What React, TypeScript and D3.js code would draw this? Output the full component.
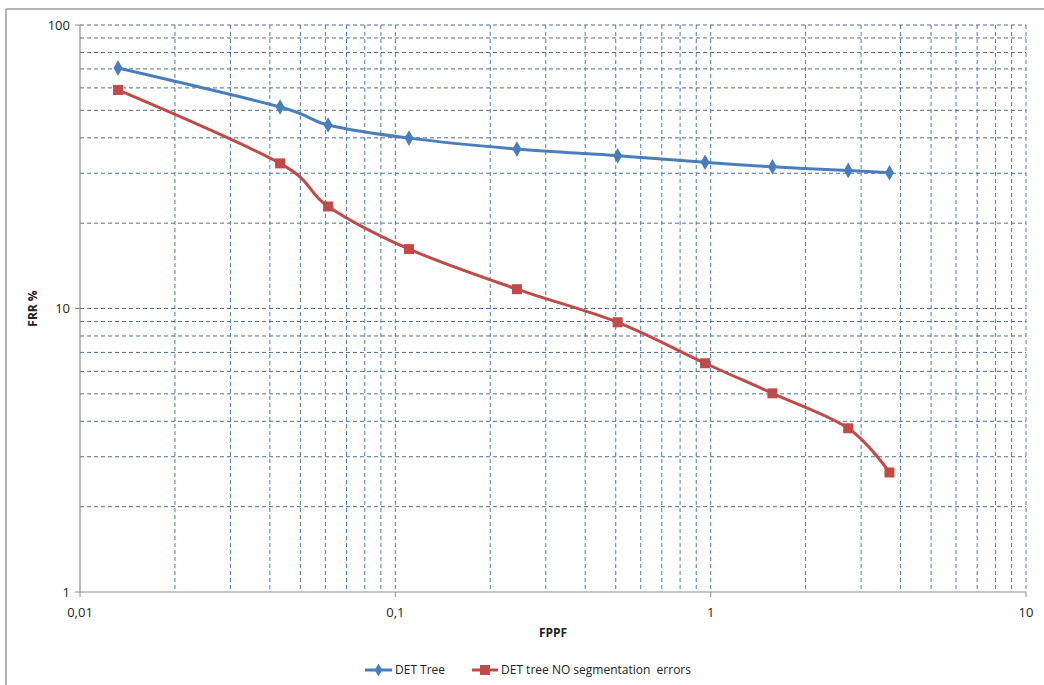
import React from "react";
import * as d3 from "d3";

// FPPF (x, log) and FRR % (y, log) for each DET curve
const fppf: number[] = [0.0132, 0.0431, 0.0612, 0.1105, 0.243, 0.507, 0.96, 1.57, 2.73, 3.69];
const detTree: number[] = [70.5, 51.4, 44.4, 39.9, 36.5, 34.6, 32.8, 31.6, 30.7, 30.1];
const detTreeNoSeg: number[] = [59.0, 32.5, 22.9, 16.2, 11.7, 8.94, 6.41, 5.02, 3.78, 2.64];

const xTickValues: number[] = [0.01, 0.1, 1, 10];
const xTickLabels: string[] = ["0,01", "0,1", "1", "10"];
const yTickValues: number[] = [1, 10, 100];
const yTickLabels: string[] = ["1", "10", "100"];

const seriesNames: string[] = ["DET Tree", "DET tree NO segmentation  errors"];

const W = 1044;
const H = 685;
const plot = { left: 80, right: 1026, top: 25, bottom: 592 };
const BLUE = "#4a7ebb";
const RED = "#be4b48";
const FONT = "'Open Sans', 'Liberation Sans', sans-serif";

function minorValues(lo: number, hi: number): number[] {
  const out: number[] = [];
  for (let d = lo; d < hi; d *= 10) {
    for (let k = 2; k <= 9; k++) out.push(d * k);
  }
  return out;
}

export default function App() {
  const x = d3.scaleLog().domain([0.01, 10]).range([plot.left, plot.right]);
  const y = d3.scaleLog().domain([1, 100]).range([plot.bottom, plot.top]);

  const line = d3
    .line<number>()
    .x((_, i) => x(fppf[i]))
    .y((d) => y(d))
    .curve(d3.curveCardinal.tension(0));

  const xGrid = [...minorValues(0.01, 10), 0.1, 1];
  const yGrid = [...minorValues(1, 100), 10];

  const diamond = d3.symbol(d3.symbolDiamond, 70)() as string;

  return (
    <svg
      width={W}
      height={H}
      style={{ position: "absolute", left: 0, top: 0, background: "#fff" }}
    >
      {/* chart frame */}
      <line x1={6} y1={9} x2={W} y2={9} stroke="#9a9a9a" strokeWidth={1.5} />
      <line x1={6} y1={9} x2={6} y2={H} stroke="#9a9a9a" strokeWidth={1.5} />

      {/* gridlines */}
      <g strokeDasharray="4,3" strokeWidth={1}>
        {yGrid.map((v) => (
          <line key={"h" + v} x1={plot.left} x2={plot.right} y1={y(v)} y2={y(v)} stroke="#4f6d96" />
        ))}
        {[100].map((v) => (
          <line key={"ht" + v} x1={plot.left} x2={plot.right} y1={y(v)} y2={y(v)} stroke="#4f6d96" />
        ))}
        {xGrid.map((v) => (
          <line key={"v" + v} x1={x(v)} x2={x(v)} y1={plot.top} y2={plot.bottom} stroke="#4a7cbc" />
        ))}
        <line x1={x(10)} x2={x(10)} y1={plot.top} y2={plot.bottom} stroke="#4a7cbc" />
      </g>

      {/* axes */}
      <line x1={plot.left} x2={plot.left} y1={plot.top} y2={plot.bottom} stroke="#8c8c8c" strokeWidth={1.2} />
      <line x1={plot.left} x2={plot.right} y1={plot.bottom} y2={plot.bottom} stroke="#8c8c8c" strokeWidth={1.2} />
      {yTickValues.map((v) => (
        <line key={"yt" + v} x1={plot.left - 5} x2={plot.left} y1={y(v)} y2={y(v)} stroke="#8c8c8c" />
      ))}
      {xTickValues.map((v) => (
        <line key={"xt" + v} x1={x(v)} x2={x(v)} y1={plot.bottom} y2={plot.bottom + 5} stroke="#8c8c8c" />
      ))}

      {/* tick labels */}
      <g fontFamily={FONT} fontSize={13} fill="#222">
        {yTickValues.map((v, i) => (
          <text key={"yl" + v} x={plot.left - 10} y={y(v)} dy="0.35em" textAnchor="end">
            {yTickLabels[i]}
          </text>
        ))}
        {xTickValues.map((v, i) => (
          <text key={"xl" + v} x={x(v)} y={plot.bottom + 20} dy="0.35em" textAnchor="middle">
            {xTickLabels[i]}
          </text>
        ))}
      </g>

      {/* axis titles */}
      <text
        x={(plot.left + plot.right) / 2}
        y={633}
        dy="0.35em"
        textAnchor="middle"
        fontFamily={FONT}
        fontSize={12}
        fontWeight="bold"
        fill="#222"
      >
        FPPF
      </text>
      <text
        transform={`translate(33,${(plot.top + plot.bottom) / 2}) rotate(-90)`}
        dy="0.35em"
        textAnchor="middle"
        fontFamily={FONT}
        fontSize={12}
        fontWeight="bold"
        fill="#222"
      >
        FRR %
      </text>

      {/* series */}
      <path d={line(detTree) as string} fill="none" stroke={BLUE} strokeWidth={3} strokeLinejoin="round" />
      <path d={line(detTreeNoSeg) as string} fill="none" stroke={RED} strokeWidth={3} strokeLinejoin="round" />
      {detTree.map((v, i) => (
        <path key={"bd" + i} d={diamond} transform={`translate(${x(fppf[i])},${y(v)})`} fill={BLUE} />
      ))}
      {detTreeNoSeg.map((v, i) => (
        <rect key={"rs" + i} x={x(fppf[i]) - 5} y={y(v) - 5} width={10} height={10} fill={RED} />
      ))}

      {/* legend */}
      <g fontFamily={FONT} fontSize={12} fill="#222">
        <line x1={365} x2={392} y1={670} y2={670} stroke={BLUE} strokeWidth={3} />
        <path d={d3.symbol(d3.symbolDiamond, 50)() as string} transform="translate(378.5,670)" fill={BLUE} />
        <text x={395} y={670} dy="0.35em">{seriesNames[0]}
        </text>
        <line x1={472} x2={498} y1={670} y2={670} stroke={RED} strokeWidth={3} />
        <rect x={480} y={665} width={10} height={10} fill={RED} />
        <text x={501} y={670} dy="0.35em" style={{ whiteSpace: "pre" }}>
          {seriesNames[1]}
        </text>
      </g>
    </svg>
  );
}
